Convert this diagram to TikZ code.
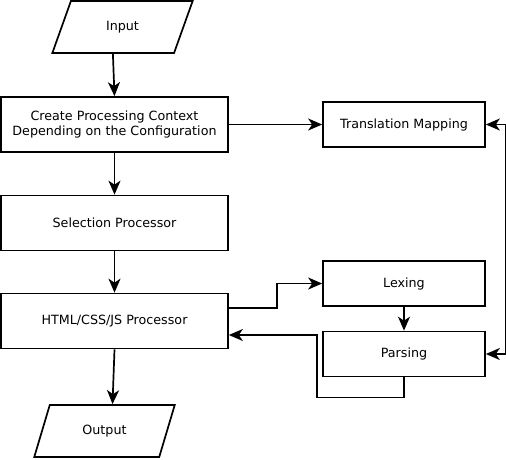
\documentclass[tikz,border=0pt]{standalone}
\usepackage{fontspec}
\setmainfont{DejaVu Sans}
\usetikzlibrary{arrows.meta, positioning, shapes.geometric, calc}

\begin{document}
\begin{tikzpicture}[x=1pt, y=1pt, on grid, node distance=98pt, line width=1.7pt,
  >={Stealth[length=14pt, width=12pt, inset=4pt]},
  every node/.style={font=\fontsize{12.7}{15}\selectfont},
  process/.style={draw, rectangle, minimum width=227pt, minimum height=55pt, align=center},
  stage/.style={draw, rectangle, minimum width=162pt, minimum height=45pt},
  io/.style={draw, trapezium, trapezium left angle=69, trapezium right angle=111,
    trapezium stretches=true, minimum width=141pt, minimum height=52pt}]
  \useasboundingbox (0,0) rectangle (506,-459);
  \node[process] (ctx) at (114.5,-124.5) {Create Processing Context\\Depending on the Configuration};
  \node[io] (inp) [above right=97.5pt and 8pt of ctx] {Input};
  \node[process] (sel) [below=98.5pt of ctx] {Selection Processor};
  \node[process] (html) [below=of sel] {HTML/CSS/JS Processor};
  \node[io] (out) [below left=110pt and 10pt of html] {Output};
  \node[stage] (trans) [right=289.5pt of ctx] {Translation Mapping};
  \node[stage] (lex) [below=159pt of trans] {Lexing};
  \node[stage] (pars) [below=70.5pt of lex] {Parsing};
  \draw[->] ($(inp.bottom left corner)!.5!(inp.bottom right corner)$) -- (ctx.north);
  \draw[->] (ctx.east) -- (trans.west);
  \draw[->] (ctx) -- (sel);
  \draw[->] (sel) -- (html);
  \draw[->] (html.south) -- ($(out.top left corner)!.5!(out.top right corner)$);
  \draw[->] ([yshift=13pt]html.east) -- ++(48,0) |- (lex.west);
  \draw[->] (lex) -- (pars);
  \draw[->] (pars.south) -- ++(0,-20) -- ++(-87,0) |- ([yshift=-14pt]html.east);
  \draw[<->] (trans.east) -- ++(20,0) |- (pars.east);
\end{tikzpicture}
\end{document}
